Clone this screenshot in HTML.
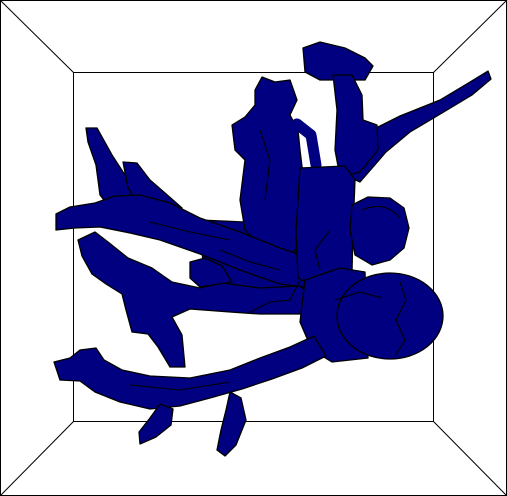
<!DOCTYPE html>
<html><head><meta charset="utf-8"><style>
html,body{margin:0;padding:0;background:#fff;width:507px;height:496px;overflow:hidden}
svg{display:block}
</style></head><body>
<svg width="507" height="496" viewBox="0 0 507 496">
<g stroke="#000" stroke-width="1" fill="none">
<rect x="0.5" y="0.5" width="506" height="495"/>
<rect x="73.5" y="72.5" width="360" height="349"/>
<line x1="0" y1="0" x2="73.5" y2="72.5"/>
<line x1="507" y1="0" x2="433.5" y2="72.5"/>
<line x1="0" y1="496" x2="73.5" y2="421.5"/>
<line x1="507" y1="496" x2="433.5" y2="421.5"/>
</g>
<g fill="#000080" stroke="#000" stroke-width="1.3" stroke-linejoin="round">
<polygon points="345,175 368,132 400,116 440,100 470,82 488,71 491,79 472,95 442,113 410,132 386,152 360,182"/>
<polygon points="303,48 320,42 345,48 365,58 373,66 365,80 345,80 320,80 305,72"/>
<polygon points="333,75 352,75 362,95 363,120 377,125 378,150 360,172 340,177 335,150 337,110"/>
<polygon points="200,220 245,222 258,238 270,250 300,245 318,290 300,308 240,304 205,292"/>
<polygon points="262,77 275,82 290,80 297,100 290,115 298,130 300,150 303,175 300,240 290,260 265,255 255,240 245,230 240,200 245,160 235,150 232,125 245,117 255,105 255,90"/>
<polyline fill="none" stroke="#000080" stroke-width="11" stroke-linecap="round" points="297,124 311,135 316,165"/>
<polygon points="86,128 97,128 112,155 125,175 145,195 158,215 140,228 118,218 100,195 96,165 88,142"/>
<polygon points="123,162 137,163 150,180 165,193 182,208 160,220 140,208 128,188"/>
<polygon points="56,214 70,207 95,203 115,196 140,195 170,203 200,218 240,232 280,248 310,258 312,288 280,284 240,270 200,254 160,240 130,233 100,227 75,228 56,230"/>
<polygon points="78,240 95,232 108,242 128,258 152,268 172,282 200,288 222,283 260,288 300,286 316,300 300,314 260,314 230,312 190,309 172,317 182,335 185,367 170,367 158,347 148,334 132,332 126,310 122,294 106,284 92,274 82,256"/>
<polygon points="190,262 205,258 222,266 232,282 200,287 190,278"/>
<polygon points="300,168 345,166 355,180 353,230 352,272 322,290 298,278 296,232"/>
<polygon points="352,205 368,197 390,198 404,208 409,228 404,248 390,260 372,265 355,255 350,230"/>
<polygon points="305,280 340,268 365,272 368,358 332,362 312,350 300,322"/>
<ellipse cx="390" cy="316" rx="53" ry="43"/>
<polygon points="54,362 70,358 80,350 96,348 104,360 122,370 150,376 190,378 230,370 260,358 290,347 314,336 326,356 302,368 272,379 242,389 210,398 180,406 150,409 120,402 95,392 80,381 60,380"/>
<polygon points="230,392 241,398 246,420 236,445 225,456 217,450 221,430 226,410"/>
<polygon points="160,404 173,409 171,425 156,437 140,444 139,432 150,418"/>
</g>
<g stroke="#000" stroke-width="1.1" fill="none">
<path d="M400,282 L406,300 L396,320 L405,340 L395,356"/>
<path d="M335,300 L360,292 L382,298"/>
<path d="M300,280 L290,300 L270,302 L250,312"/>
<path d="M330,230 L315,250 L320,270"/>
<path d="M362,210 Q385,200 400,218"/>
<path d="M150,222 L190,232 L230,240"/>
<path d="M130,385 L180,390 L230,382"/>
<path d="M260,130 L270,160 L265,200"/>
<path d="M220,250 L250,262 L280,270"/>
</g>
</svg>
</body></html>
